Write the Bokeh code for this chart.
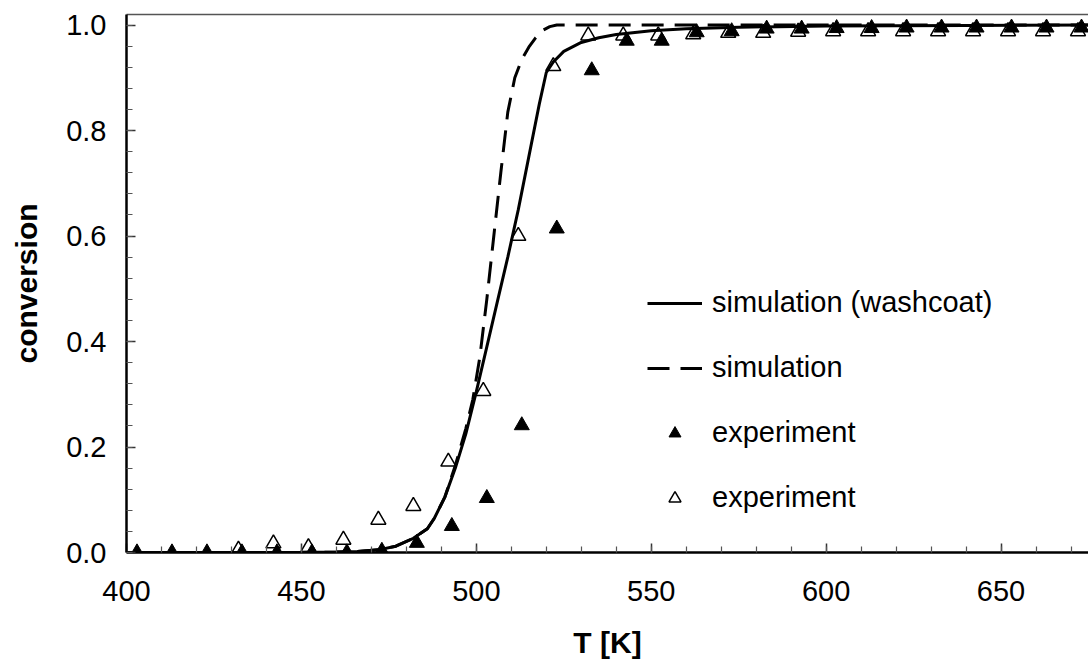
from bokeh.plotting import figure
from bokeh.models import Range1d, FixedTicker, LinearAxis, Legend, LegendItem, NumeralTickFormatter
from bokeh.embed import file_html
from bokeh.resources import INLINE

# ---- data ----
T_filled = [403, 413, 423, 433, 443, 453, 463, 473, 483, 493, 503, 513, 523, 533,
            543, 553, 563, 573, 583, 593, 603, 613, 623, 633, 643, 653, 663, 673]
X_filled = [0.0, 0.0, 0.0, 0.0, 0.0, 0.0, 0.0, 0.003, 0.018, 0.05, 0.103, 0.241, 0.614, 0.914,
            0.97, 0.97, 0.986, 0.988, 0.993, 0.993, 0.994, 0.994, 0.995, 0.995, 0.995, 0.995, 0.995, 0.995]

T_open = [432, 442, 452, 462, 472, 482, 492, 502, 512, 522, 532, 542, 552,
          562, 572, 582, 592, 602, 612, 622, 632, 642, 652, 662, 672]
X_open = [0.005, 0.017, 0.01, 0.024, 0.062, 0.088, 0.172, 0.306, 0.60, 0.922, 0.98, 0.98, 0.98,
          0.982, 0.985, 0.985, 0.987, 0.988, 0.988, 0.988, 0.988, 0.988, 0.988, 0.988, 0.988]

T_wash = [400, 450, 460, 466, 472, 477, 482, 486, 488, 491, 494, 497, 500, 503, 506, 509,
          512, 515, 518, 520, 522, 525, 530, 535, 540, 550, 560, 575, 600, 640, 675]
X_wash = [0.0, 0.0, 0.001, 0.002, 0.005, 0.012, 0.027, 0.045, 0.065, 0.105, 0.16, 0.225, 0.305,
          0.39, 0.475, 0.56, 0.65, 0.75, 0.85, 0.91, 0.93, 0.95, 0.967, 0.976, 0.982, 0.989,
          0.993, 0.996, 0.998, 0.999, 1.0]

T_sim = [400, 450, 460, 466, 472, 477, 482, 486, 488, 491, 494, 497, 499, 501, 503, 505,
         507, 509, 511, 513, 515, 517, 519, 521, 523, 675]
X_sim = [0.0, 0.0, 0.001, 0.002, 0.005, 0.012, 0.027, 0.045, 0.065, 0.105, 0.165, 0.235, 0.29,
         0.37, 0.48, 0.6, 0.72, 0.835, 0.9, 0.935, 0.958, 0.976, 0.99, 0.997, 1.0, 1.0]

x_major = [400, 450, 500, 550, 600, 650]
x_minor = list(range(400, 680, 10))
y_major = [0.0, 0.2, 0.4, 0.6, 0.8, 1.0]
y_minor = [round(0.04 * i, 2) for i in range(26)]

FONT = "Liberation Sans"

p = figure(width=1088, height=662, x_range=Range1d(400, 675), y_range=Range1d(0, 1.02),
           output_backend="svg", toolbar_location=None,
           min_border_left=126, min_border_right=0, min_border_top=14, min_border_bottom=110)
p.grid.visible = False
p.outline_line_color = None
p.background_fill_color = "white"
p.border_fill_color = "white"

xb = p.below[0]
yl = p.left[0]

for ax in (xb, yl):
    ax.axis_line_color = "black"
    ax.axis_line_width = 2.5
    ax.major_tick_line_color = "#333333"
    ax.minor_tick_line_color = "#555555"
    ax.major_tick_line_width = 1.5
    ax.minor_tick_line_width = 1.2
    ax.major_tick_in = 9
    ax.major_tick_out = 0
    ax.minor_tick_in = 6
    ax.minor_tick_out = 0
    ax.major_label_text_font = FONT
    ax.major_label_text_font_size = "29px"
    ax.major_label_text_color = "black"
    ax.axis_label_text_font = FONT
    ax.axis_label_text_font_size = "30px"
    ax.axis_label_text_font_style = "bold"
    ax.axis_label_text_color = "black"

xb.ticker = FixedTicker(ticks=x_major, minor_ticks=x_minor)
yl.ticker = FixedTicker(ticks=y_major, minor_ticks=y_minor)
yl.formatter = NumeralTickFormatter(format="0.0")
xb.axis_label = "T [K]"
yl.axis_label = "conversion"
xb.major_label_standoff = 28
xb.axis_label_standoff = 22
yl.major_label_standoff = 20
yl.axis_label_standoff = 20

# top frame line (no ticks, no labels)
top = LinearAxis(ticker=FixedTicker(ticks=[]), major_label_text_font_size="0px",
                 axis_line_color="#555555", axis_line_width=1.5,
                 major_tick_line_color=None, minor_tick_line_color=None,
                 major_tick_in=0, major_tick_out=0, major_label_standoff=0)
p.add_layout(top, "above")

r_open = p.scatter(T_open, X_open, marker="triangle", size=15, fill_color="white",
                   line_color="black", line_width=1.5)
r_filled = p.scatter(T_filled, X_filled, marker="triangle", size=15, fill_color="black",
                     line_color="black", line_width=1)
r_wash = p.line(T_wash, X_wash, line_color="black", line_width=3)
r_sim = p.line(T_sim, X_sim, line_color="black", line_width=3, line_dash="22 11")

legend = Legend(items=[
    LegendItem(label="simulation (washcoat)", renderers=[r_wash]),
    LegendItem(label="simulation", renderers=[r_sim]),
    LegendItem(label="experiment", renderers=[r_filled]),
    LegendItem(label="experiment", renderers=[r_open]),
], location=(521, 38))
legend.label_text_font = FONT
legend.label_text_font_size = "29px"
legend.label_text_color = "black"
legend.glyph_width = 55
legend.glyph_height = 30
legend.label_height = 30
legend.spacing = 32
legend.padding = 0
legend.margin = 0
legend.label_standoff = 10
legend.border_line_alpha = 0
legend.background_fill_alpha = 0
p.add_layout(legend)

open("out.html", "w").write(file_html(p, INLINE))
